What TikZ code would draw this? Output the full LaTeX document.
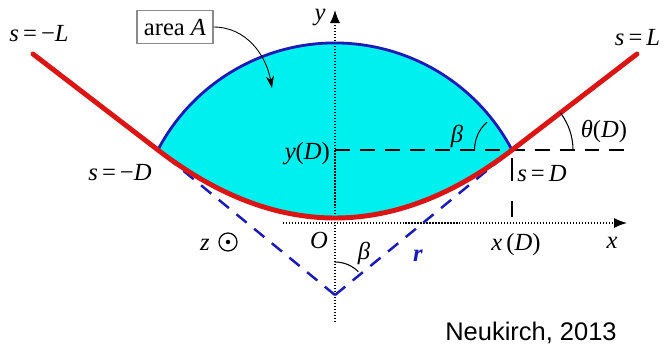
\documentclass[tikz,border=0pt]{standalone}
\usepackage{fontspec}
\setmainfont{Liberation Serif}
\newfontfamily\creditfont{Liberation Sans}
\usetikzlibrary{arrows.meta,positioning}
\definecolor{FilmCyan}{HTML}{00F0F0}
\definecolor{ArcBlue}{HTML}{1A1AB8}
\definecolor{RodRed}{HTML}{DD1414}
\definecolor{BoxGray}{HTML}{8A8A8A}

\begin{document}
\begin{tikzpicture}[font=\fontsize{14}{16}\selectfont]
    \useasboundingbox (-6.70,-2.54) rectangle (6.56,4.46);

    % key points of the rod
    \coordinate (O) at (0,0);
    \coordinate (pL) at (-3.54,1.46);
    \coordinate (pR) at (3.54,1.46);
    \coordinate (V) at (0,-1.44);
    \coordinate (endL) at (-6.04,3.38);
    \coordinate (endR) at (6.04,3.38);

    % liquid
    \fill[FilmCyan] (pL) .. controls (-1.18,-0.353) and (1.18,-0.353) .. (pR)
      arc[start angle=27.7, end angle=152.3, radius=4] -- cycle;

    % axes
    \coordinate (xfrom) at (-1.04,0);
    \coordinate (xto) at (5.84,0);
    \coordinate (yfrom) at (0,-1.98);
    \coordinate (yto) at (0,4.26);
    \draw[densely dotted, line width=0.7pt, -{Latex[length=2.6mm,width=2mm]}] (xfrom) -- (xto);
    \draw[densely dotted, line width=0.7pt, -{Latex[length=2.6mm,width=2mm]}] (yfrom) -- (yto);

    % levels
    \coordinate (yD) at (0,1.46);
    \coordinate (hto) at (5.86,1.46);
    \draw[line width=0.8pt, dash pattern=on 8.5pt off 5.7pt] (yD) -- (hto);
    \coordinate (tickTop) at (3.54,1.30);
    \coordinate (tickBot) at (3.54,0.12);
    \draw[line width=0.6pt, dash pattern=on 0.45cm off 0.4cm] (tickTop) -- (tickBot);

    % tangent lines
    \draw[ArcBlue, line width=1.4pt, dash pattern=on 7.5pt off 5.5pt] (V) -- (pR);
    \draw[ArcBlue, line width=1.4pt, dash pattern=on 7.5pt off 5.5pt] (V) -- (pL);

    % meniscus and rod
    \draw[ArcBlue, line width=1.6pt] (pR) arc[start angle=27.7, end angle=152.3, radius=4];
    \draw[RodRed, line width=2.8pt, line join=round, line cap=round] (endL) -- (pL)
      .. controls (-1.18,-0.353) and (1.18,-0.353) .. (pR) -- (endR);

    % angles
    \draw[line width=0.6pt] ([shift={(180:0.75)}]pR) arc[start angle=180, end angle=132, radius=0.75];
    \draw[line width=0.6pt] ([shift={(0:1.22)}]pR) arc[start angle=0, end angle=37.5, radius=1.22];
    \draw[line width=0.6pt] ([shift={(90:0.66)}]V) arc[start angle=90, end angle=45, radius=0.66];

    % labels
    \node (sminusL) at (-5.92,3.78) {\textit{s}\,=\,−\textit{L}};
    \node (splusL) at (6.05,3.70) {\textit{s}\,=\,\textit{L}};
    \node (sminusD) at (-4.30,1.00) {\textit{s}\,=\,−\textit{D}};
    \node (splusD) at (4.14,0.98) {\textit{s}\,=\,\textit{D}};
    \node (thetaD) at (5.38,1.82) {\textit{θ}(\textit{D})};
    \node (betaTop) at (2.44,1.74) {\textit{β}};
    \node (betaBot) at (0.58,-0.60) {\textit{β}};
    \node[anchor=east, inner sep=1pt] (yDlab) at (-0.06,1.38) {\textit{y}(\textit{D})};
    \node (xDlab) at (3.62,-0.44) {\textit{x}\,(\textit{D})};
    \node (xlab) at (5.54,-0.40) {\textit{x}};
    \node (ylab) at (-0.30,4.10) {\textit{y}};
    \node (Olab) at (-0.32,-0.34) {\textit{O}};
    \node[text=ArcBlue] (rlab) at (1.66,-0.66) {\textit{\textbf{r}}};
    \node (zlab) at (-2.60,-0.44) {\textit{z}};
    \node[
      draw,
      circle,
      line width=0.7pt,
      minimum size=0.36cm,
      inner sep=0pt
    ] (zdir) at (-2.14,-0.38) {};
    \fill (zdir.center) circle[radius=0.045];

    \node[
      draw=BoxGray,
      line width=0.6pt,
      minimum width=1.52cm,
      minimum height=0.66cm,
      inner sep=2pt
    ] (areaA) at (-3.20,3.92) {area \textit{A}};
    \coordinate (areaTip) at (-1.26,2.70);
    \draw[-{Stealth[length=2.4mm,width=1.6mm]}, line width=0.5pt] (areaA.east) to[out=0, in=100] (areaTip);

    \node[font=\creditfont\fontsize{14.5}{16}\selectfont] (credit) at (3.92,-2.20) {Neukirch, 2013};
  \end{tikzpicture}
\end{document}
